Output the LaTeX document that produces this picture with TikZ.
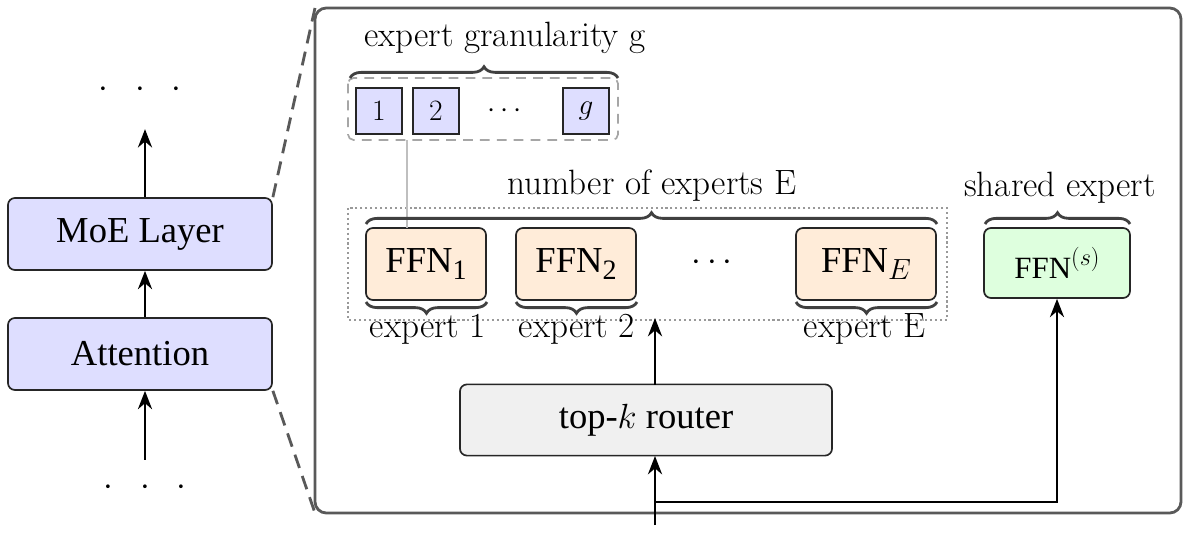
\documentclass[tikz,border=0pt]{standalone}
\usepackage{fontspec}
\newfontfamily\boxfont{Liberation Serif}
\usetikzlibrary{arrows.meta,decorations.pathreplacing,positioning}
\newcommand\lowidx[1]{\raisebox{-5pt}{\fontsize{20}{20}\selectfont #1}}
\tikzset{
  blk/.style={draw=black!85,line width=1.2pt,rounded corners=5pt,font=\boxfont\fontsize{26}{30}\selectfont},
  arr/.style={line width=2pt,-{Stealth[length=13pt,width=10pt]}},
  brc/.style={draw=black!75,line width=2pt,decorate,decoration={brace,amplitude=8pt}},
  lbl/.style={font=\fontsize{25}{29}\selectfont}
}
\begin{document}
\begin{tikzpicture}[x=0.025cm,y=-0.025cm]
  \useasboundingbox (0,0) rectangle (1189,536);
  % left stack
  \node[blk,fill=blue!13,minimum width=6.6cm,minimum height=1.8cm] (moe) at (140,234) {MoE Layer};
  \node[blk,fill=blue!13,minimum width=6.6cm,minimum height=1.8cm] (attn) at (140,354) {Attention};
  \node[lbl,font=\fontsize{30}{30}\selectfont] (topdots) at (140,90) {$\cdot\;\;\cdot\;\;\cdot$};
  \node[lbl,font=\fontsize{30}{30}\selectfont] (botdots) at (145,488) {$\cdot\;\;\cdot\;\;\cdot$};
  \coordinate (in) at (145,460);
  \draw[arr] ([xshift=0.125cm]attn.north) -- ([xshift=0.125cm]moe.south);
  \draw[arr] ([xshift=0.125cm]moe.north) -- ++(0,-68);
  \draw[arr] (in) -- (in |- attn.south);
  % zoom frame
  \draw[draw=black!65,line width=2pt,rounded corners=8pt] (315,8) rectangle (1181,513);
  \draw[black!65,line width=2pt,dash pattern=on 10pt off 6pt] (moe.north east) -- (315,8);
  \draw[black!65,line width=2pt,dash pattern=on 10pt off 6pt] (moe.north east |- attn.south) -- (315,513);
  % granularity
  \draw[black!35,line width=1.2pt,dash pattern=on 7pt off 5pt,rounded corners=4pt] (348,78) rectangle (618,140);
  \node[blk,fill=blue!13,rounded corners=0pt,minimum size=1.15cm,inner sep=0pt,font=\fontsize{21}{24}\selectfont] (g1) at (379,111) {1};
  \node[blk,fill=blue!13,rounded corners=0pt,minimum size=1.15cm,inner sep=0pt,font=\fontsize{21}{24}\selectfont] (g2) at (436,111) {2};
  \node[blk,fill=blue!13,rounded corners=0pt,minimum size=1.15cm,inner sep=0pt,font=\fontsize{21}{24}\selectfont] (gg) at (586,111) {$g$};
  \node[lbl,font=\fontsize{20}{24}\selectfont] (gdots) at (505,111) {$\cdots$};
  \draw[brc] (350,78) -- (618,78);
  \node[lbl] (glbl) at (505,38) {expert granularity g};
  % experts
  \draw[black!40,line width=1.5pt,dotted] (348,208) rectangle (947,320);
  \node[blk,fill=orange!15,minimum width=3cm,minimum height=1.8cm] (f1) at (426,264) {FFN\lowidx{1}};
  \node[blk,fill=orange!15,minimum width=3cm,minimum height=1.8cm] (f2) at (576,264) {FFN\lowidx{2}};
  \node[blk,fill=orange!15,minimum width=3.5cm,minimum height=1.8cm] (fe) at (866,264) {FFN\lowidx{$E$}};
  \node[lbl] (fdots) at (712,263) {$\cdots$};
  \node[blk,fill=green!13,minimum width=3.65cm,minimum height=1.75cm,font=\boxfont\fontsize{22}{26}\selectfont] (fs) at (1057,263) {FFN\raisebox{9pt}{\fontsize{17}{17}\selectfont$(s)$}};
  \draw[black!25,line width=1.5pt] (407,140) -- (407,228);
  \draw[brc] (366,224) -- (937,224);
  \node[lbl] (nlbl) at (652,186) {number of experts E};
  \draw[brc] (985,224) -- (1130,224);
  \node[lbl] (slbl) at (1060,188) {shared expert};
  \draw[brc] (487,302) -- (366,302);
  \draw[brc] (637,302) -- (516,302);
  \draw[brc] (937,302) -- (796,302);
  \node[lbl] (e1) at (428,329) {expert 1};
  \node[lbl] (e2) at (577,329) {expert 2};
  \node[lbl] (ee) at (865,329) {expert E};
  % router
  \node[blk,fill=black!6,minimum width=9.3cm,minimum height=1.78cm] (rt) at (646,420) {top-$k$ router};
  \coordinate (x) at (655,525);
  \coordinate (split) at (655,502);
  \draw[arr] (655,385) -- (655,318);
  \draw[arr] (x) -- (655,456);
  \draw[arr] (split) -| (fs.south);
\end{tikzpicture}
\end{document}
